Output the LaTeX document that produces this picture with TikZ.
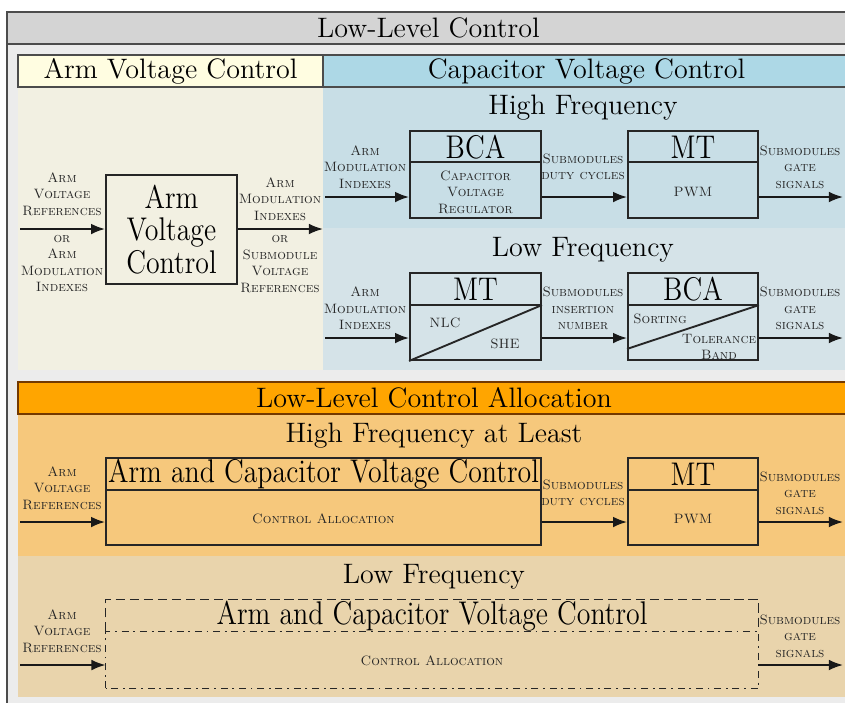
\documentclass[tikz,border=0pt]{standalone}
\usepackage{tikz}
\usepackage{xcolor}
\usetikzlibrary{arrows.meta,positioning,calc}

\definecolor{hdrgray}{HTML}{D4D4D4}
\definecolor{bggray}{HTML}{ECECEC}
\definecolor{armhdr}{HTML}{FFFDE1}
\definecolor{armbg}{HTML}{F2F0E2}
\definecolor{caphdr}{HTML}{ADD8E6}
\definecolor{caphf}{HTML}{C8DEE6}
\definecolor{caplf}{HTML}{D5E3E8}
\definecolor{allochdr}{HTML}{FFA500}
\definecolor{allochf}{HTML}{F6C87C}
\definecolor{alloclf}{HTML}{E9D4AC}

\tikzset{
  hdrbox/.style={draw=black!70, thick, inner sep=0pt, font=\fontsize{12}{14}\selectfont},
  hdr/.style={font=\fontsize{12}{14}\selectfont},
  box/.style={draw=black!85, thick, inner sep=0pt},
  bw/.style={minimum width=#1*0.15mm},
  bh/.style={minimum height=#1*0.15mm},
  ttl/.style={font=\fontsize{14}{14}\selectfont, align=center, xscale=0.85},
  lbl/.style={font=\fontsize{5.8}{7}\selectfont\scshape, align=center, text=black!85},
  arr/.style={thick, black!90, -{Latex[length=6pt,width=4.6pt]}},
}

\begin{document}
\begin{tikzpicture}[x=0.15mm, y=-0.15mm]
\useasboundingbox (0,0) rectangle (845,702);

% frame and panels
\fill[bggray] (7,12) rectangle (850,710);
\draw[black!70, thick] (7,710) -- (7,44);
\node[hdrbox, fill=hdrgray, bw=843, bh=32] (llc) at (428.5,28) {Low-Level Control};

\fill[armbg] (18,87) rectangle (323,370);
\fill[caphf] (323,87) rectangle (850,228);
\fill[caplf] (323,228) rectangle (850,370);
\node[hdrbox, fill=armhdr, bw=305, bh=32] (avchdr) at (170.5,71) {Arm Voltage Control};
\node[hdrbox, fill=caphdr, bw=527, bh=32] (cvchdr) at (586.5,71) {Capacitor Voltage Control};
\node[hdr] (hf) at (583,108) {High Frequency};
\node[hdr] (lf) at (583,250) {Low Frequency};

\fill[allochf] (18,414) rectangle (850,556);
\fill[alloclf] (18,556) rectangle (850,697);
\node[hdrbox, draw=orange!45!black, fill=allochdr, bw=832, bh=32] (llca) at (434,398) {Low-Level Control Allocation};
\node[hdr] (hfal) at (434,436) {High Frequency at Least};
\node[hdr] (lfa) at (434,577) {Low Frequency};

% arm voltage control
\node[box, bw=131, bh=109] (avc) at (171.5,229.5) {};
\node[ttl] (avct) at (avc) {Arm\\Voltage\\Control};
\coordinate (avcin) at (20,229);
\coordinate (avcout) at (323,229);
\draw[arr] (avcin) -- (avcin -| avc.west);
\draw[arr] (avcout -| avc.east) -- (avcout);
\node[lbl] (avcl1) at (62,194) {Arm\\Voltage\\References};
\node[lbl] (avcl2) at (62,263.5) {or\\Arm\\Modulation\\Indexes};
\node[lbl] (avcr1) at (280,199) {Arm\\Modulation\\Indexes};
\node[lbl] (avcr2) at (280,264) {or\\Submodule\\Voltage\\References};

% capacitor voltage control, high frequency
\node[box, bw=131, bh=87] (bca1) at (475.5,174.5) {};
\draw[box] ($(bca1.north west)+(0,32)$) -- ++(131,0);
\node[ttl] (bca1t) at (475.5,147) {BCA};
\node[lbl] (bca1b) at (475.5,192) {Capacitor\\Voltage\\Regulator};
\node[box, bw=130, bh=87] (mt1) at (693,174.5) {};
\draw[box] ($(mt1.north west)+(0,32)$) -- ++(130,0);
\node[ttl] (mt1t) at (693,147) {MT};
\node[lbl] (mt1b) at (693,192) {PWM};
\coordinate (hfin) at (325,197);
\coordinate (hfout) at (843,197);
\draw[arr] (hfin) -- (hfin -| bca1.west);
\draw[arr] (hfin -| bca1.east) -- (hfin -| mt1.west);
\draw[arr] (hfin -| mt1.east) -- (hfout);
\node[lbl] (hfl) at (365,167) {Arm\\Modulation\\Indexes};
\node[lbl] (hfm) at (583,166.5) {Submodules\\duty cycles};
\node[lbl] (hfr) at (800,167) {Submodules\\gate\\signals};

% capacitor voltage control, low frequency
\node[box, bw=131, bh=87] (mt2) at (475.5,316.5) {};
\draw[box] ($(mt2.north west)+(0,33)$) -- ++(131,0);
\draw[box] (mt2.south west) -- ($(mt2.north east)+(0,33)$);
\node[ttl] (mt2t) at (475.5,289) {MT};
\node[lbl] (nlc) at (445,323) {NLC};
\node[lbl] (she) at (505,344) {SHE};
\node[box, bw=130, bh=87] (bca2) at (693,316.5) {};
\draw[box] ($(bca2.north west)+(0,33)$) -- ++(130,0);
\draw[box] ($(bca2.south west)+(0,-12)$) -- ($(bca2.north east)+(0,33)$);
\node[ttl] (bca2t) at (693,289) {BCA};
\node[lbl] (sort) at (660,319) {Sorting};
\node[lbl] (tolb) at (719,347) {Tolerance\\Band};
\coordinate (lfin) at (325,338);
\coordinate (lfout) at (843,338);
\draw[arr] (lfin) -- (lfin -| mt2.west);
\draw[arr] (lfin -| mt2.east) -- (lfin -| bca2.west);
\draw[arr] (lfin -| bca2.east) -- (lfout);
\node[lbl] (lfl) at (365,308.5) {Arm\\Modulation\\Indexes};
\node[lbl] (lfm) at (583,308.5) {Submodules\\insertion\\number};
\node[lbl] (lfr) at (800,308.5) {Submodules\\gate\\signals};

% allocation, high frequency at least
\node[box, bw=435, bh=87] (acvc) at (323.5,501.5) {};
\draw[box] ($(acvc.north west)+(0,33)$) -- ++(435,0);
\node[ttl] (acvct) at (323.5,474.5) {Arm and Capacitor Voltage Control};
\node[lbl] (acvcb) at (323.5,519) {Control Allocation};
\node[box, bw=130, bh=87] (mt3) at (693,501.5) {};
\draw[box] ($(mt3.north west)+(0,33)$) -- ++(130,0);
\node[ttl] (mt3t) at (693,474.5) {MT};
\node[lbl] (mt3b) at (693,519) {PWM};
\coordinate (allocin) at (20,522);
\coordinate (allocout) at (843,522);
\draw[arr] (allocin) -- (allocin -| acvc.west);
\draw[arr] (allocin -| acvc.east) -- (allocin -| mt3.west);
\draw[arr] (allocin -| mt3.east) -- (allocout);
\node[lbl] (allocl) at (62,488) {Arm\\Voltage\\References};
\node[lbl] (allocm) at (583,492.5) {Submodules\\duty cycles};
\node[lbl] (allocr) at (800,493) {Submodules\\gate\\signals};

% allocation, low frequency
\node[bw=652, bh=88, inner sep=0pt] (acvc2) at (432,644) {};
\draw[thick, black!85, dash pattern=on 4pt off 2pt] ($(acvc2.north west)+(0,32)$) -- (acvc2.north west) -- (acvc2.north east) -- ++(0,32);
\draw[thick, black!85, dash dot] (acvc2.south west) rectangle ($(acvc2.north east)+(0,32)$);
\node[ttl] (acvc2t) at (432,616) {Arm and Capacitor Voltage Control};
\node[lbl] (acvc2b) at (432,661) {Control Allocation};
\coordinate (lfain) at (20,665);
\coordinate (lfaout) at (843,665);
\draw[arr] (lfain) -- (lfain -| acvc2.west);
\draw[arr] (lfain -| acvc2.east) -- (lfaout);
\node[lbl] (lfal) at (62,631) {Arm\\Voltage\\References};
\node[lbl] (lfar) at (800,636) {Submodules\\gate\\signals};
\end{tikzpicture}
\end{document}
